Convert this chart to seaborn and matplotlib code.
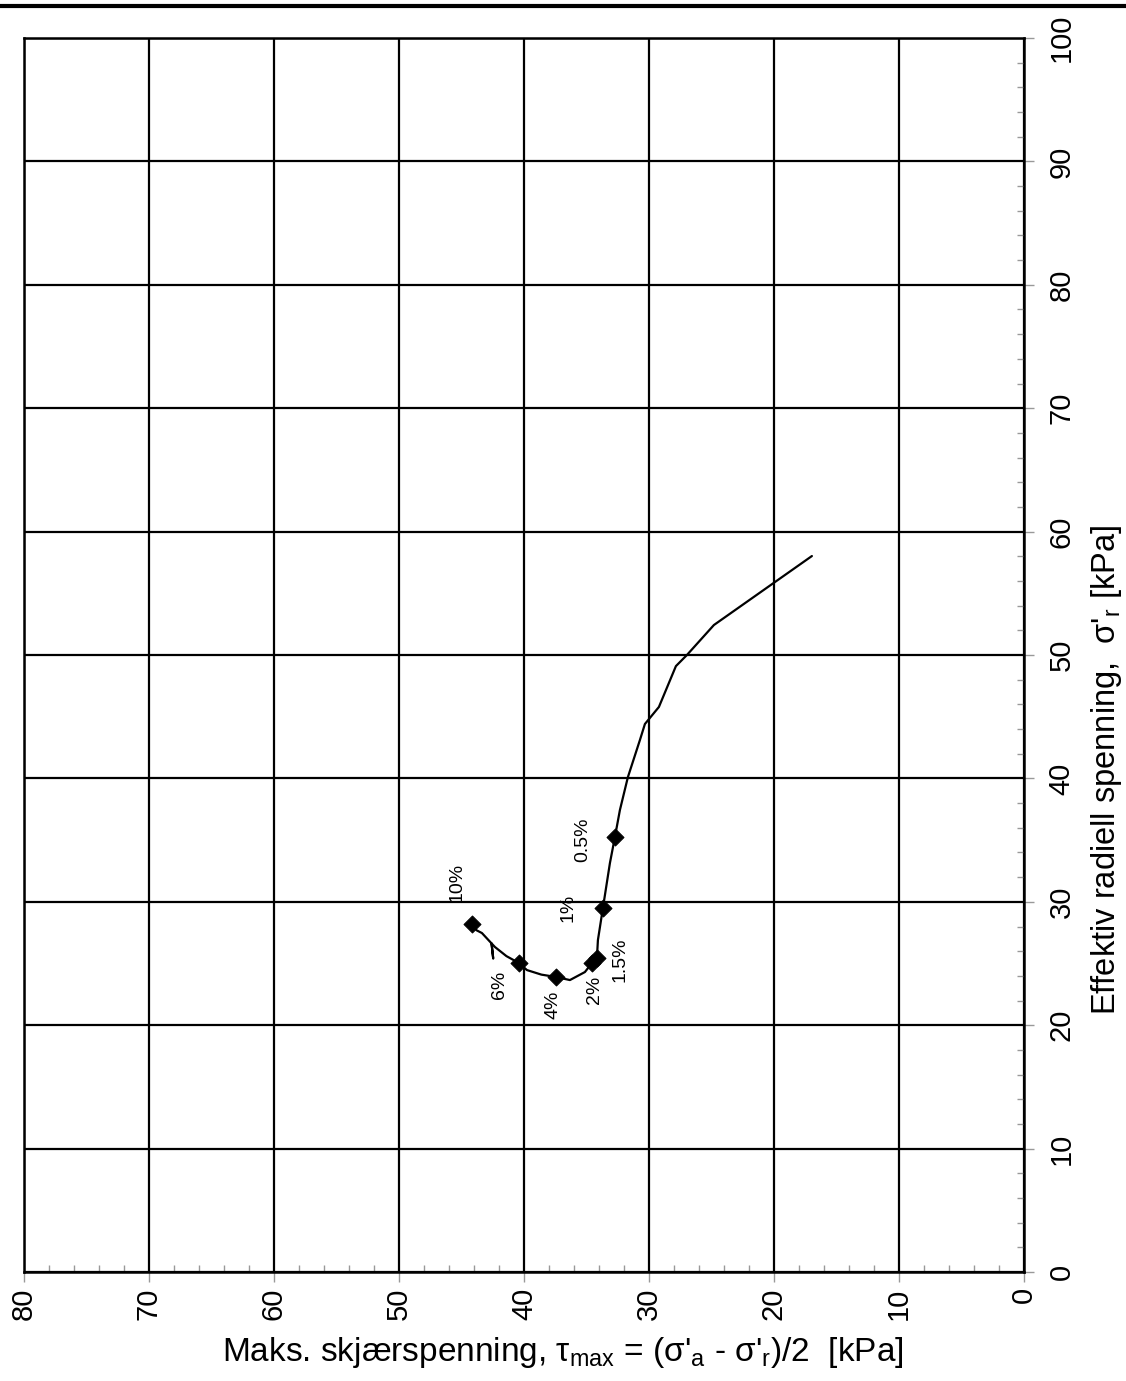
import matplotlib
matplotlib.use("Agg")
import matplotlib.pyplot as plt
from matplotlib.lines import Line2D
from matplotlib.ticker import MultipleLocator
import seaborn as sns
import pandas as pd

# Stress path: max shear stress (x) vs effective radial stress (y)
tau_max = [16.96, 24.80, 26.96, 27.84, 29.20, 30.32, 30.72, 31.68, 32.32,
           32.72, 33.12, 33.68, 34.08, 34.16, 34.56, 35.12, 36.32, 37.44,
           38.60, 39.76, 40.40, 41.40, 42.32, 42.59, 42.46, 42.59, 43.36,
           43.80, 44.16]
sigma_r = [58.02, 52.43, 50.00, 49.10, 45.79, 44.41, 43.11, 40.11, 37.44,
           35.25, 33.14, 29.50, 26.90, 25.45, 25.04, 24.31, 23.66, 23.91,
           24.10, 24.47, 25.04, 25.60, 26.34, 26.63, 25.42, 26.63, 27.47,
           27.70, 28.20]

# Strain markers along the path
strain_labels = ["0.5%", "1%", "1.5%", "2%", "4%", "6%", "10%"]
strain_tau = [32.72, 33.68, 34.16, 34.56, 37.44, 40.40, 44.16]
strain_sig = [35.25, 29.50, 25.45, 25.04, 23.91, 25.04, 28.20]
label_tau = [35.28, 36.48, 32.32, 34.32, 37.68, 41.92, 45.36]
label_sig = [34.99, 29.50, 25.28, 22.90, 21.64, 23.26, 31.60]

x_ticks = list(range(0, 81, 10))
y_ticks = list(range(0, 101, 10))

sns.set_theme(style="white")
plt.rcParams["font.family"] = ["Liberation Sans", "DejaVu Sans"]
plt.rcParams["mathtext.fontset"] = "custom"
plt.rcParams["mathtext.rm"] = "Liberation Sans"
plt.rcParams["mathtext.it"] = "Liberation Sans:italic"
plt.rcParams["mathtext.sf"] = "Liberation Sans"

fig = plt.figure(figsize=(11.26, 13.81), dpi=100)
ax = fig.add_axes([0.0213, 0.0789, 0.888, 0.8936])

path = pd.DataFrame({"tau": tau_max, "sig": sigma_r})
pts = pd.DataFrame({"tau": strain_tau, "sig": strain_sig})

sns.lineplot(data=path, x="tau", y="sig", sort=False, estimator=None,
             color="black", lw=1.6, ax=ax, zorder=3)
sns.scatterplot(data=pts, x="tau", y="sig", marker="D", s=75,
                color="black", edgecolor="black", ax=ax, zorder=4)

for lab, xt, yt in zip(strain_labels, label_tau, label_sig):
    ax.text(xt, yt, lab, rotation=90, ha="center", va="center",
            fontsize=14, color="black", zorder=5)

ax.set_xlim(80, 0)
ax.set_ylim(0, 100)
ax.set_xticks(x_ticks)
ax.set_yticks(y_ticks)
ax.xaxis.set_minor_locator(MultipleLocator(2))
ax.yaxis.set_minor_locator(MultipleLocator(2))

ax.yaxis.tick_right()
ax.yaxis.set_label_position("right")

ax.grid(True, which="major", color="black", lw=1.6)
ax.set_axisbelow(True)
for s in ax.spines.values():
    s.set_color("black")
    s.set_linewidth(1.8)

ax.tick_params(axis="both", which="major", direction="out", length=7,
               width=1, color="#999999", labelsize=21, labelcolor="black")
ax.tick_params(axis="x", which="major", pad=4, labelrotation=90)
ax.tick_params(axis="y", which="major", pad=10, labelrotation=90)
ax.tick_params(axis="both", which="minor", direction="in", length=5,
               width=1, color="#999999")
ax.tick_params(axis="y", which="both", left=False, right=True)
ax.tick_params(axis="x", which="both", top=False, bottom=True)
for t in ax.get_yticklabels():
    t.set_va("center")

ax.set_xlabel("Maks. skjærspenning, τ$_{\\mathrm{max}}$ = (σ'$_{\\mathrm{a}}$ - σ'$_{\\mathrm{r}}$)/2  [kPa]",
              fontsize=24, color="black")
ax.set_ylabel("Effektiv radiell spenning,  σ'$_{\\mathrm{r}}$ [kPa]",
              fontsize=23.5, color="black", rotation=90)
ax.xaxis.label.set_va("center")
ax.xaxis.set_label_coords(0.539, -0.0648)
ax.yaxis.label.set_va("center")
ax.yaxis.label.set_ha("center")
ax.yaxis.set_label_coords(1.083, 0.407)

fig.add_artist(Line2D([0, 1], [0.9953, 0.9953], transform=fig.transFigure,
                      color="black", lw=3))

fig.savefig("out.png", dpi=100, facecolor="white")
